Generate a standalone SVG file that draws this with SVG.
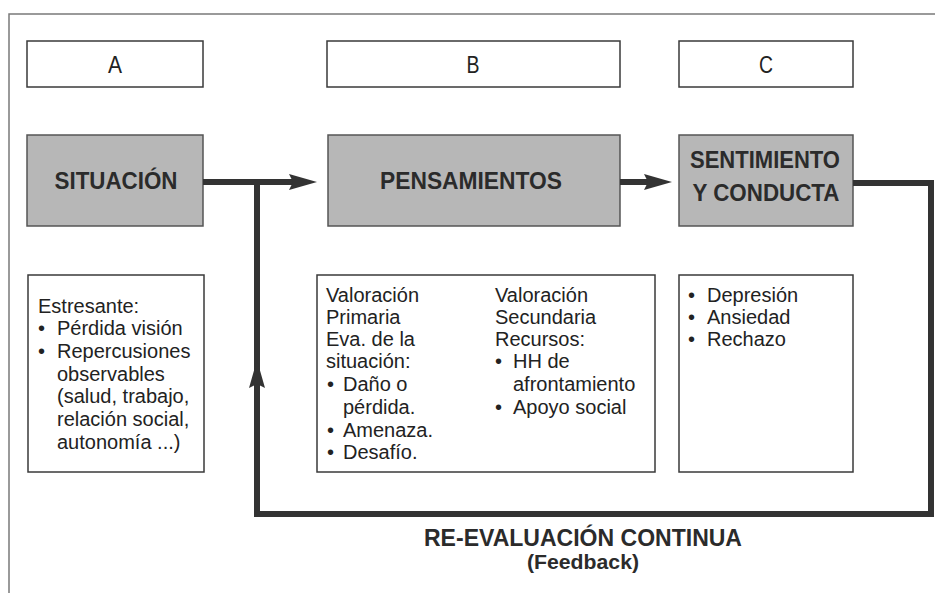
<svg xmlns="http://www.w3.org/2000/svg" width="935" height="593" viewBox="0 0 935 593">
<style>
.frame{fill:none;stroke:#7a7a7a;stroke-width:1.5}
.lbl{fill:#fff;stroke:#3a3a3a;stroke-width:1.5}
.gray{fill:#b7b7b7;stroke:#555;stroke-width:1.5}
.txt{fill:#222;font-family:"Liberation Sans",Arial,sans-serif;font-size:20px}
.ttl{fill:#2b2b2b;font-family:"Liberation Sans",Arial,sans-serif;font-size:24px;font-weight:bold;text-anchor:middle}
.letter{fill:#222;font-family:"Liberation Sans",Arial,sans-serif;font-size:24px;text-anchor:middle}
.conn{fill:none;stroke:#333;stroke-width:6}
.foot{fill:#2b2b2b;font-family:"Liberation Sans",Arial,sans-serif;font-weight:bold;text-anchor:middle}
</style>
<defs>
<marker id="ah" viewBox="0 0 28 16" refX="4" refY="8" markerWidth="28" markerHeight="16" markerUnits="userSpaceOnUse" orient="auto">
<path d="M0,0 L28,8 L0,16 L4,8 z" fill="#333"/>
</marker>
</defs>
<rect width="935" height="593" fill="#fff"/>
<path class="frame" d="M9,593 V14 H935"/>

<g id="labelA"><rect class="lbl" x="27" y="41" width="176" height="46"/><text class="letter" x="115" y="73" textLength="14" lengthAdjust="spacingAndGlyphs">A</text></g>
<g id="labelB"><rect class="lbl" x="327" y="41" width="293" height="46"/><text class="letter" x="473" y="73" textLength="13" lengthAdjust="spacingAndGlyphs">B</text></g>
<g id="labelC"><rect class="lbl" x="679" y="41" width="174" height="46"/><text class="letter" x="766" y="73" textLength="14" lengthAdjust="spacingAndGlyphs">C</text></g>

<g id="situacion"><rect class="gray" x="27" y="135" width="176" height="91"/><text class="ttl" x="116" y="189" textLength="123" lengthAdjust="spacingAndGlyphs">SITUACIÓN</text></g>
<g id="pensamientos"><rect class="gray" x="328" y="135" width="292" height="91"/><text class="ttl" x="471" y="189" textLength="182" lengthAdjust="spacingAndGlyphs">PENSAMIENTOS</text></g>
<g id="sentimiento"><rect class="gray" x="679" y="135" width="174" height="91"/><text class="ttl" x="765" y="168" textLength="150" lengthAdjust="spacingAndGlyphs">SENTIMIENTO</text><text class="ttl" x="766" y="201" textLength="147" lengthAdjust="spacingAndGlyphs">Y CONDUCTA</text></g>

<g id="detalleA"><rect class="lbl" x="28" y="275" width="176" height="197"/>
<text class="txt"><tspan x="38" y="313">Estresante:</tspan><tspan x="38" y="335">•</tspan><tspan x="57" y="335">Pérdida visión</tspan><tspan x="38" y="358">•</tspan><tspan x="57" y="358">Repercusiones</tspan><tspan x="57" y="381">observables</tspan><tspan x="57" y="403">(salud, trabajo,</tspan><tspan x="57" y="426">relación social,</tspan><tspan x="57" y="449">autonomía  ...)</tspan></text></g>

<g id="detalleB"><rect class="lbl" x="317" y="275" width="338" height="197"/>
<text class="txt"><tspan x="326" y="302">Valoración</tspan><tspan x="326" y="324">Primaria</tspan><tspan x="326" y="346">Eva. de la</tspan><tspan x="326" y="368">situación:</tspan><tspan x="327" y="391">•</tspan><tspan x="343" y="391">Daño o</tspan><tspan x="343" y="414">pérdida.</tspan><tspan x="327" y="437">•</tspan><tspan x="343" y="437">Amenaza.</tspan><tspan x="327" y="459">•</tspan><tspan x="343" y="459">Desafío.</tspan></text>
<text class="txt"><tspan x="495" y="302">Valoración</tspan><tspan x="495" y="324">Secundaria</tspan><tspan x="495" y="346">Recursos:</tspan><tspan x="495" y="368">•</tspan><tspan x="513" y="368">HH de</tspan><tspan x="513" y="391">afrontamiento</tspan><tspan x="495" y="414">•</tspan><tspan x="513" y="414">Apoyo social</tspan></text></g>

<g id="detalleC"><rect class="lbl" x="679" y="275" width="174" height="197"/>
<text class="txt"><tspan x="688" y="302">•</tspan><tspan x="707" y="302">Depresión</tspan><tspan x="688" y="324">•</tspan><tspan x="707" y="324">Ansiedad</tspan><tspan x="688" y="346">•</tspan><tspan x="707" y="346">Rechazo</tspan></text></g>

<g id="connectors">
<path class="conn" d="M203,182 H293" marker-end="url(#ah)"/>
<path class="conn" d="M620,182 H648" marker-end="url(#ah)"/>
<path class="conn" d="M853,183 H931 V514 H257 V182"/>
<path d="M257,400 V384" class="conn" marker-end="url(#ah)"/>
</g>

<g id="feedback">
<text class="foot" x="583" y="546" font-size="23" textLength="318" lengthAdjust="spacingAndGlyphs">RE-EVALUACIÓN CONTINUA</text>
<text class="foot" x="583" y="569" font-size="21" textLength="112" lengthAdjust="spacingAndGlyphs">(Feedback)</text>
</g>
</svg>
